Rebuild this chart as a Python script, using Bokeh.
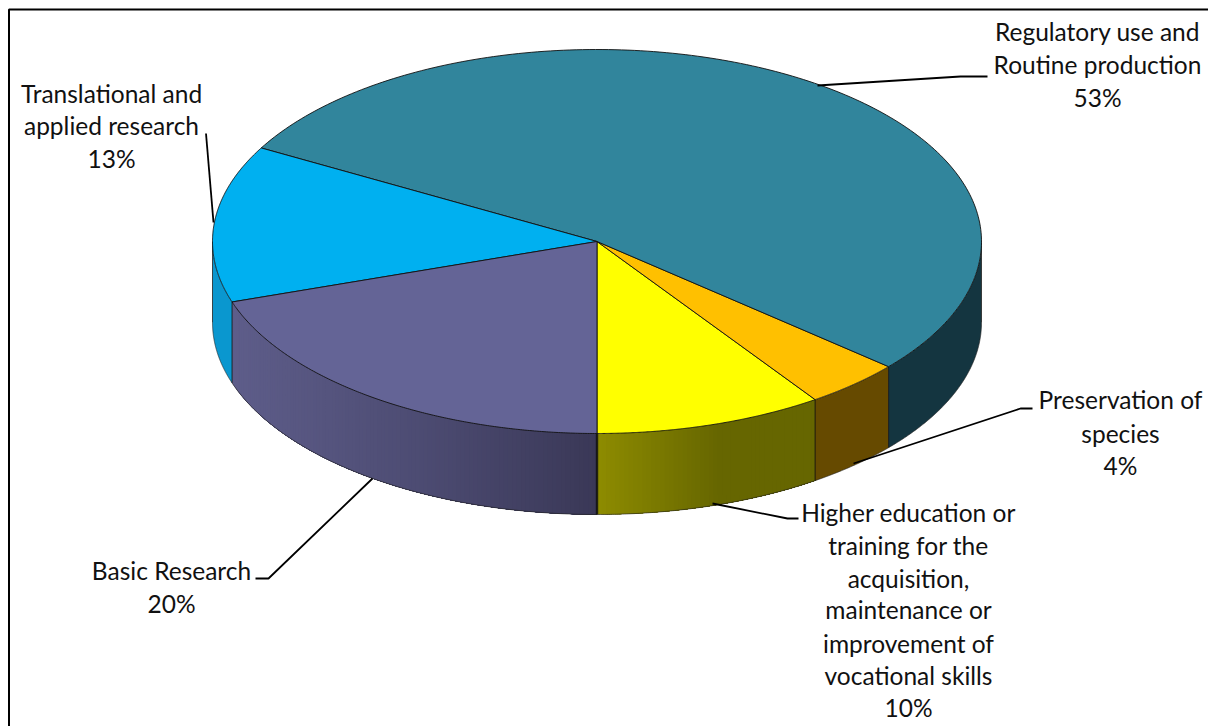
import numpy as np
from bokeh.plotting import figure
from bokeh.embed import file_html
from bokeh.resources import INLINE
from bokeh.core.properties import value
from bokeh.models import Range1d

# ---- data (order: counter-clockwise on screen, starting at the bottom of the pie)
categories = ["Higher education", "Preservation", "Regulatory", "Translational", "Basic"]
values = [9.6, 4.1, 53.2, 13.2, 19.9]
top_colors = ["#FFFF00", "#FFC000", "#31859C", "#00B0F0", "#646496"]
# side-face gradient stops: (fraction of the visible arc, colour)
side_stops = [
    [(0.0, "#8E8C00"), (0.56, "#666600"), (1.0, "#666600")],
    [(0.0, "#664A00"), (1.0, "#664A00")],
    [(0.0, "#143540"), (1.0, "#143540")],
    [(0.0, "#0A97CF"), (1.0, "#0A97CF")],
    [(0.0, "#5E5D8A"), (0.5, "#4D4C73"), (1.0, "#3A3857")],
]

labels = [
    (["Regulatory use and", "Routine production", "53%"], 1097, [39, 72, 105]),
    (["Translational and", "applied research", "13%"], 111, [101, 133, 166]),
    (["Basic Research", "20%"], 171, [578, 611]),
    (["Higher education or", "training for the", "acquisition,", "maintenance or",
      "improvement of", "vocational skills", "10%"], 908, [520, 553, 586, 617, 651, 683, 715]),
    (["Preservation of", "species", "4%"], 1120, [407, 441, 473]),
]
leaders = [
    ([817, 960, 987], [85, 76, 76]),
    ([205.5, 213], [133, 222]),
    ([255, 268, 372], [578, 578, 478]),
    ([712, 787, 798], [503, 518, 518]),
    ([853, 1020, 1032], [463, 408, 408]),
]

# ---- geometry of the projected pie
CX, CY, RX, RY, DEPTH = 596.5, 241.0, 384.5, 192.0, 81.0
FONT = "Lato"
FONT_SIZE = "24.5px"
TEXT_COLOR = "#111111"
TEXT_SHIFT = -8  # the browser sets the baseline this far below the asked position


def ell(t):
    t = np.radians(t)
    return CX + RX * np.sin(t), CY + RY * np.cos(t)


def hex_rgb(h):
    return np.array([int(h[i:i + 2], 16) for i in (1, 3, 5)], dtype=float)


def stop_color(stops, f):
    fs = [s[0] for s in stops]
    rgb = np.array([hex_rgb(s[1]) for s in stops])
    c = [np.interp(f, fs, rgb[:, i]) for i in range(3)]
    return "#%02X%02X%02X" % tuple(int(round(v)) for v in c)


p = figure(width=1208, height=726, output_backend="svg", toolbar_location=None,
           x_range=Range1d(0, 1208), y_range=Range1d(726, 0),
           min_border=0, outline_line_color=None, background_fill_color="white",
           border_fill_color="white")
p.axis.visible = False
p.grid.visible = False

# chart frame (runs off the page to the right and bottom)
p.line([1208, 8.5, 8.5], [9, 9, 726], line_color="black", line_width=2)

ends = np.cumsum(values) / np.sum(values) * 360.0
starts = np.concatenate([[0.0], ends[:-1]])


def visible_arc(a, b):
    parts = []
    for lo, hi in ((0.0, 90.0), (270.0, 360.0)):
        l, h = max(a, lo), min(b, hi)
        if h > l:
            parts.append((l, h))
    return parts


# side walls: painted left to right, each strip reaching to the slice's end, so no seams show
for i in range(len(values)):
    constant = len({s[1] for s in side_stops[i]}) == 1
    for lo, hi in visible_arc(starts[i], ends[i]):
        n = 1 if constant else max(2, int((hi - lo) * 1.5))
        edges = np.linspace(lo, hi, n + 1)
        x0, x1 = ell(lo)[0], ell(hi)[0]
        for k in range(n):
            tt = np.linspace(edges[k], hi, 120)
            ex, ey = ell(tt)
            mx = ell((edges[k] + edges[k + 1]) / 2)[0]
            col = stop_color(side_stops[i], (mx - x0) / (x1 - x0))
            p.patch(np.concatenate([ex, ex[::-1]]), np.concatenate([ey, (ey + DEPTH)[::-1]]),
                    fill_color=col, line_color=None)
        tt = np.linspace(lo, hi, 120)
        ex, ey = ell(tt)
        p.line(ex, ey + DEPTH, line_color="#222222", line_width=0.8, line_alpha=0.8)

# vertical joins between slices on the front
for a, w in zip(starts, [2.4, 1, 1, 1, 1]):
    a = a % 360
    if a <= 90 or a >= 270:
        ex, ey = ell(a)
        p.line([ex, ex], [ey, ey + DEPTH], line_color="#111111", line_width=w, line_alpha=0.85)
for t_end in (90.0, 270.0):
    ex, ey = ell(t_end)
    p.line([ex, ex], [ey, ey + DEPTH], line_color="#222222", line_width=0.8)

# top faces
for i in range(len(values)):
    tt = np.linspace(starts[i], ends[i], 200)
    ex, ey = ell(tt)
    xs = np.concatenate([[CX], ex])
    ys = np.concatenate([[CY], ey])
    p.patch(xs, ys, fill_color=top_colors[i], line_color="#111111", line_width=0.9)

# leader lines
for lx, ly in leaders:
    p.line(lx, ly, line_color="black", line_width=1.8)

# labels
for lines, cx, ys in labels:
    p.text([cx] * len(lines), [y + TEXT_SHIFT for y in ys], text=lines, text_font=value(FONT),
           text_font_size=value(FONT_SIZE),
           text_align="center", text_baseline="alphabetic", text_color=TEXT_COLOR)

open("out.html", "w").write(file_html(p, INLINE))
